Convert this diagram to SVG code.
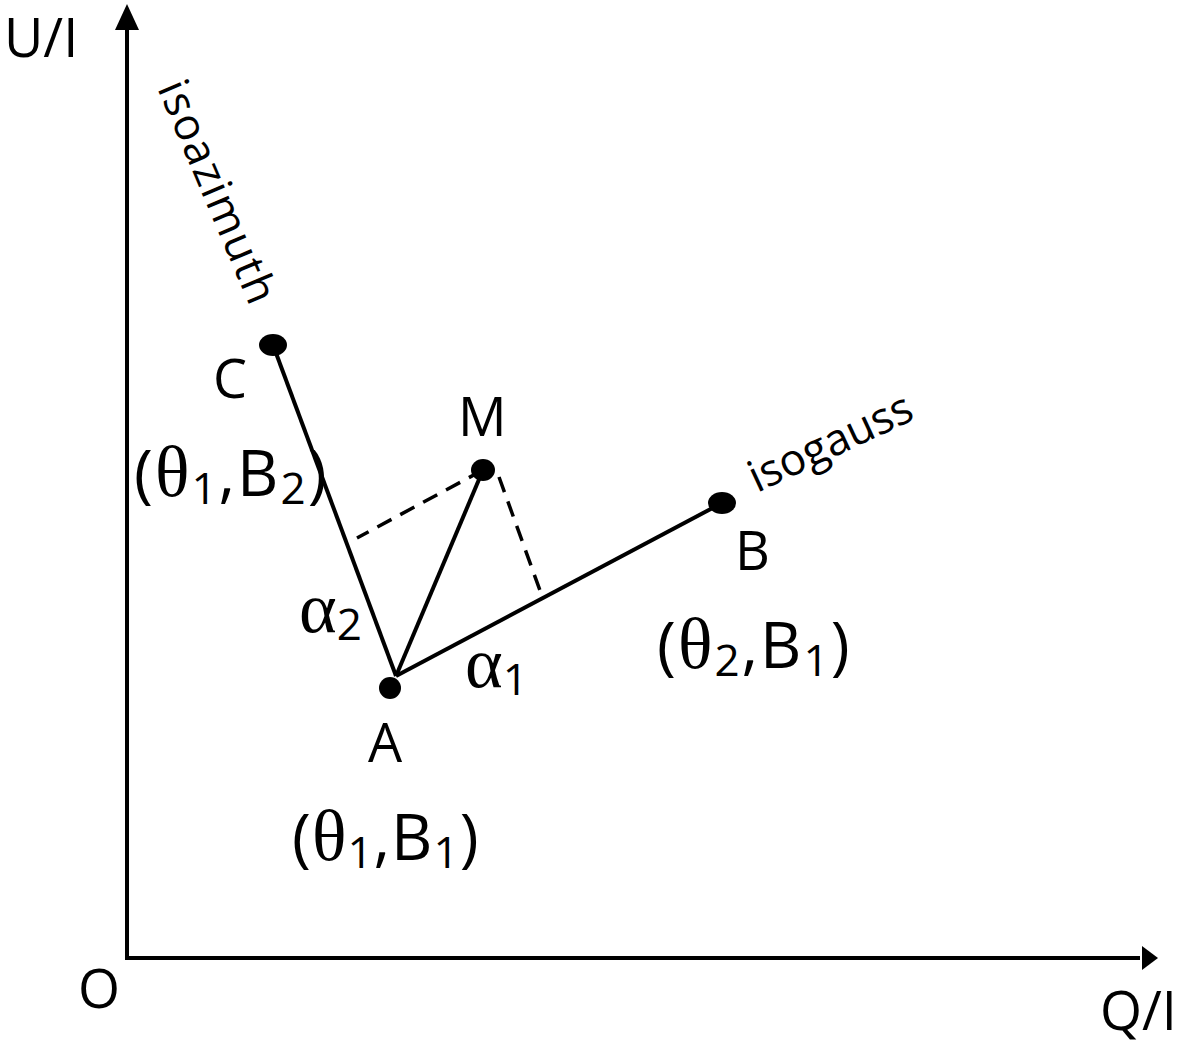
<svg xmlns="http://www.w3.org/2000/svg" width="1200" height="1049" viewBox="0 0 1200 1049">
<style>
.t{font-family:"Open Sans","Liberation Sans",sans-serif;font-size:54px;fill:#000}
.c{font-size:64px}
.g{font-family:"Liberation Serif",serif;font-size:72px}
.s{font-size:44px}
.sm{font-family:"Open Sans","Liberation Sans",sans-serif;font-size:44px;fill:#000}
.ln{stroke:#000;stroke-width:4;fill:none}
.ds{stroke:#000;stroke-width:3.5;fill:none;stroke-dasharray:16 10}
</style>
<rect width="1200" height="1049" fill="#fff"/>
<g id="axes">
<line class="ln" x1="127" y1="960" x2="127" y2="26"/>
<polygon points="127,4 115,30 139,30"/>
<line class="ln" x1="125" y1="958" x2="1140" y2="958"/>
<polygon points="1158,958 1142,946 1142,970"/>
<text class="t" x="4" y="57">U/I</text>
<text class="t" x="78" y="1008">O</text>
<text class="t" x="1100" y="1030">Q/I</text>
</g>
<g id="connectors">
<line class="ln" x1="273" y1="345" x2="396" y2="676"/>
<line class="ln" x1="396" y1="676" x2="483" y2="470"/>
<line class="ln" x1="396" y1="676" x2="722" y2="503"/>
<line class="ds" x1="483" y1="470" x2="357" y2="538"/>
<line class="ds" x1="499" y1="477" x2="542" y2="596"/>
</g>
<g id="C">
<ellipse cx="273" cy="345" rx="14" ry="11"/>
<text class="t" x="213" y="398">C</text>
<text class="t c" x="134" y="496" style="letter-spacing:2px">(<tspan class="g">θ</tspan><tspan class="s" dy="8">1</tspan><tspan dy="-8">,B</tspan><tspan class="s" dy="8">2</tspan><tspan dy="-8">)</tspan></text>
</g>
<g id="M">
<ellipse cx="483" cy="470" rx="12" ry="11"/>
<text class="t" x="458" y="436">M</text>
</g>
<g id="B">
<ellipse cx="722" cy="503" rx="14" ry="11"/>
<text class="t" x="735" y="570">B</text>
<text class="t c" x="657" y="668" style="letter-spacing:2px">(<tspan class="g">θ</tspan><tspan class="s" dy="8">2</tspan><tspan dy="-8">,B</tspan><tspan class="s" dy="8">1</tspan><tspan dy="-8">)</tspan></text>
</g>
<g id="A">
<circle cx="390" cy="688" r="11"/>
<text class="t" x="368" y="762">A</text>
<text class="t c" x="292" y="860" style="letter-spacing:1px">(<tspan class="g">θ</tspan><tspan class="s" dy="8">1</tspan><tspan dy="-8">,B</tspan><tspan class="s" dy="8">1</tspan><tspan dy="-8">)</tspan></text>
</g>
<g id="angles">
<text class="t" x="299" y="632"><tspan class="g">α</tspan><tspan class="s" dy="8">2</tspan></text>
<text class="t" x="465" y="687"><tspan class="g">α</tspan><tspan class="s" dy="8">1</tspan></text>
</g>
<g id="labels">
<text class="sm" transform="translate(157,88) rotate(67)" textLength="238">isoazimuth</text>
<text class="sm" transform="translate(757,493) rotate(-25)">isogauss</text>
</g>
</svg>
